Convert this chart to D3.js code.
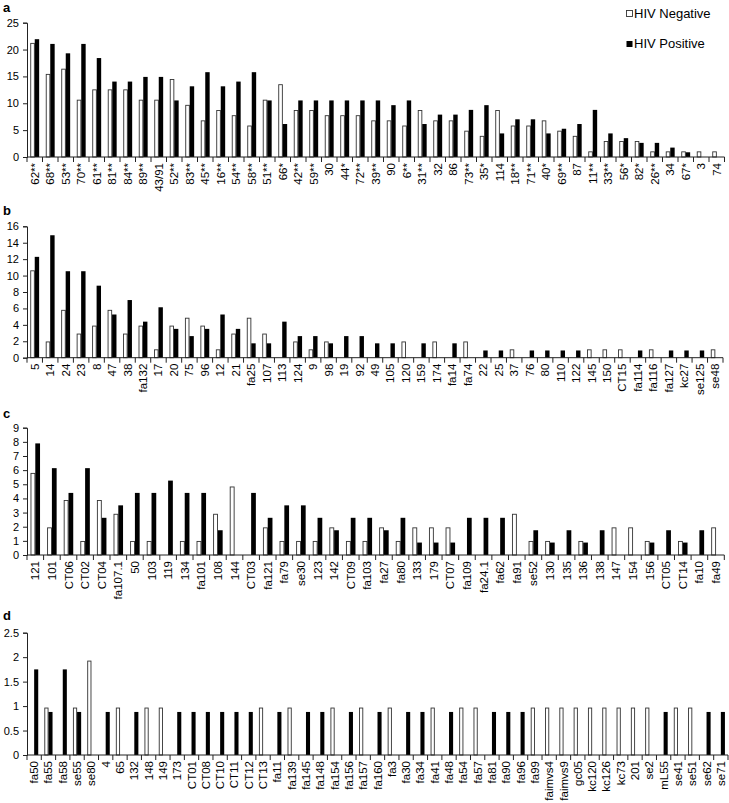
<!DOCTYPE html>
<html><head><meta charset="utf-8">
<script src="https://cdn.jsdelivr.net/npm/d3@7"></script>
<style>body{margin:0;background:#fff} svg{display:block} text{font-family:"Liberation Sans",Arial,sans-serif;fill:#000}</style>
</head><body>
<svg id="chart" width="729" height="803"></svg>
<script>
const catsA = ["62**","68**","53**","70**","61**","81**","84**","89**","43/91","52**","83**","45**","16**","54**","58**","51**","66*","42**","59**","30","44*","72**","39**","90","6**","31**","32","86","73**","35*","114","18**","71**","40*","69**","87","11**","33**","56*","82*","26**","34","67*","3","74"];
const negA = [21.15,15.38,16.35,10.58,12.5,12.5,12.5,10.58,10.58,14.42,9.62,6.73,8.65,7.69,5.77,10.58,13.46,8.65,8.65,7.69,7.69,7.69,6.73,6.73,5.77,8.65,6.73,6.73,4.81,3.85,8.65,5.77,5.77,6.73,4.81,3.85,0.96,2.88,2.88,2.88,0.96,0.96,0.96,0.96,0.96];
const posA = [21.93,21.05,19.3,21.05,18.42,14.04,14.04,14.91,14.91,10.53,13.16,15.79,13.16,14.04,15.79,10.53,6.14,10.53,10.53,10.53,10.53,10.53,10.53,9.65,10.53,6.14,7.89,7.89,8.77,9.65,4.39,7.02,7.02,4.39,5.26,6.14,8.77,4.39,3.51,2.63,2.63,1.75,0.88,0,0];

const catsB = ["5","14","24","23","8","47","38","fa132","17","20","75","96","12","21","fa25","107","113","124","9","98","19","92","49","105","120","159","174","fa14","fa74","22","25","37","76","80","110","122","145","150","CT15","fa114","fa116","fa127","kc27","se125","se48"];
const negB = [10.58,1.92,5.77,2.88,3.85,5.77,2.88,3.85,0.96,3.85,4.81,3.85,0.96,2.88,4.81,2.88,0,1.92,0.96,1.92,0,0,0,0,1.92,0,1.92,0,1.92,0,0,0.96,0,0,0,0,0.96,0.96,0.96,0,0.96,0,0,0,0.96];
const posB = [12.28,14.91,10.53,10.53,8.77,5.26,7.02,4.39,6.14,3.51,2.63,3.51,5.26,3.51,1.75,1.75,4.39,2.63,2.63,1.75,2.63,2.63,1.75,1.75,0,1.75,0,1.75,0,0.88,0.88,0,0.88,0.88,0.88,0.88,0,0,0,0.88,0,0.88,0.88,0.88,0];

const catsC = ["121","101","CT06","CT02","CT04","fa107.1","50","103","119","134","fa101","108","144","CT03","fa121","fa79","se30","123","142","CT09","fa103","fa27","fa80","133","179","CT07","fa109","fa24.1","fa62","fa91","se52","130","135","136","138","147","154","156","CT05","CT14","fa10","fa49"];
const negC = [5.77,1.92,3.85,0.96,3.85,2.88,0.96,0.96,0,0.96,0.96,2.88,4.81,0,1.92,0.96,0.96,0.96,1.92,0.96,0.96,1.92,0.96,1.92,1.92,1.92,0,0,0,2.88,0.96,0.96,0,0.96,0,1.92,1.92,0.96,0,0.96,0,1.92];
const posC = [7.89,6.14,4.39,6.14,2.63,3.51,4.39,4.39,5.26,4.39,4.39,1.75,0,4.39,2.63,3.51,3.51,2.63,1.75,2.63,2.63,1.75,2.63,0.88,0.88,0.88,2.63,2.63,2.63,0,1.75,0.88,1.75,0.88,1.75,0,0,0.88,1.75,0.88,1.75,0];

const catsD = ["fa50","fa55","fa58","se55","se80","4","65","132","148","149","173","CT01","CT08","CT10","CT11","CT12","CT13","fa11","fa139","fa145","fa148","fa154","fa156","fa157","fa160","fa3","fa30","fa34","fa41","fa48","fa54","fa57","fa81","fa90","fa96","fa99","faimvs4","faimvs9","gc05","kc120","kc126","kc73","201","se2","mL55","se41","se51","se62","se71"];
const negD = [0,0.96,0,0.96,1.92,0,0.96,0,0.96,0.96,0,0,0,0,0,0,0.96,0,0.96,0,0,0.96,0,0.96,0,0.96,0,0,0.96,0,0.96,0.96,0,0,0,0.96,0.96,0.96,0.96,0.96,0.96,0.96,0.96,0.96,0,0.96,0.96,0,0];
const posD = [1.75,0.88,1.75,0.88,0,0.88,0,0.88,0,0,0.88,0.88,0.88,0.88,0.88,0.88,0,0.88,0,0.88,0.88,0,0.88,0,0.88,0,0.88,0.88,0,0.88,0,0,0.88,0.88,0.88,0,0,0,0,0,0,0,0,0,0.88,0,0,0.88,0.88];

const yTicksA = [0,5,10,15,20,25];
const yTicksB = [0,2,4,6,8,10,12,14,16];
const yTicksC = [0,1,2,3,4,5,6,7,8,9];
const yTicksD = [0,0.5,1,1.5,2,2.5];

const seriesNames = ["HIV Negative","HIV Positive"];

const svg = d3.select("#chart");

const panels = [
  {label:"a", cats:catsA, neg:negA, pos:posA, ticks:yTicksA, x0:27, x1:724.5, yTop:22.7, yBot:157, labelY:12},
  {label:"b", cats:catsB, neg:negB, pos:posB, ticks:yTicksB, x0:27, x1:723, yTop:226.3, yBot:357.7, labelY:215},
  {label:"c", cats:catsC, neg:negC, pos:posC, ticks:yTicksC, x0:27, x1:724.3, yTop:427.7, yBot:555, labelY:418},
  {label:"d", cats:catsD, neg:negD, pos:posD, ticks:yTicksD, x0:27, x1:728, yTop:632.7, yBot:755, labelY:620}
];

panels.forEach(p => {
  const g = svg.append("g");
  const x = d3.scaleBand().domain(p.cats).range([p.x0, p.x1]);
  const ymax = p.ticks[p.ticks.length-1];
  const y = d3.scaleLinear().domain([0, ymax]).range([p.yBot, p.yTop]);
  const bw = x.bandwidth();
  const barW = bw * 0.285;

  const yAxis = d3.axisLeft(y).tickValues(p.ticks).tickSize(4).tickPadding(4)
    .tickFormat(d3.format("~g"));
  const ya = g.append("g").attr("transform", `translate(${p.x0},0)`).call(yAxis);
  ya.select(".domain").attr("stroke", "#222").attr("stroke-width", 1);
  ya.selectAll(".tick line").attr("stroke", "#222");
  ya.selectAll(".tick text").attr("font-size", 11).attr("font-family", "'Liberation Sans',Arial,sans-serif").attr("fill","#000");

  const data = p.cats.map((c, i) => ({c, neg: p.neg[i], pos: p.pos[i]}));
  g.selectAll("rect.neg").data(data.filter(d => d.neg > 0)).enter().append("rect")
    .attr("class", "neg")
    .attr("x", d => x(d.c) + bw/2 - barW + 0.4)
    .attr("y", d => y(d.neg))
    .attr("width", barW - 0.8)
    .attr("height", d => p.yBot - y(d.neg))
    .attr("fill", "#fff").attr("stroke", "#333").attr("stroke-width", 0.9);
  g.selectAll("rect.pos").data(data.filter(d => d.pos > 0)).enter().append("rect")
    .attr("class", "pos")
    .attr("x", d => x(d.c) + bw/2)
    .attr("y", d => y(d.pos))
    .attr("width", barW)
    .attr("height", d => p.yBot - y(d.pos))
    .attr("fill", "#000");

  g.append("line").attr("x1", p.x0).attr("x2", p.x1).attr("y1", p.yBot).attr("y2", p.yBot)
    .attr("stroke", "#222").attr("stroke-width", 1);
  const bounds = p.cats.map(c => x(c)).concat([x(p.cats[p.cats.length-1]) + bw]);
  g.selectAll("line.xt").data(bounds).enter().append("line")
    .attr("x1", d => d).attr("x2", d => d)
    .attr("y1", p.yBot).attr("y2", p.yBot + 5)
    .attr("stroke", "#222").attr("stroke-width", 1);

  g.selectAll("text.xl").data(p.cats).enter().append("text")
    .attr("transform", d => `translate(${x(d) + bw/2},${p.yBot + 6}) rotate(-90)`)
    .attr("text-anchor", "end").attr("dy", "0.35em")
    .attr("font-size", 11.5)
    .text(d => d);

  svg.append("text").attr("x", 3).attr("y", p.labelY)
    .attr("font-size", 13).attr("font-weight", "bold").text(p.label);
});

const leg = svg.append("g");
seriesNames.forEach((n, i) => {
  const yy = 10 + i * 30.5;
  leg.append("rect").attr("x", 626.5).attr("y", yy + 0.5).attr("width", 6).attr("height", 6)
    .attr("fill", i === 0 ? "#fff" : "#000").attr("stroke", i === 0 ? "#333" : "none").attr("stroke-width", 0.9);
  leg.append("text").attr("x", 634).attr("y", yy + 7.5).attr("font-size", 13).text(n);
});
</script>
</body></html>
